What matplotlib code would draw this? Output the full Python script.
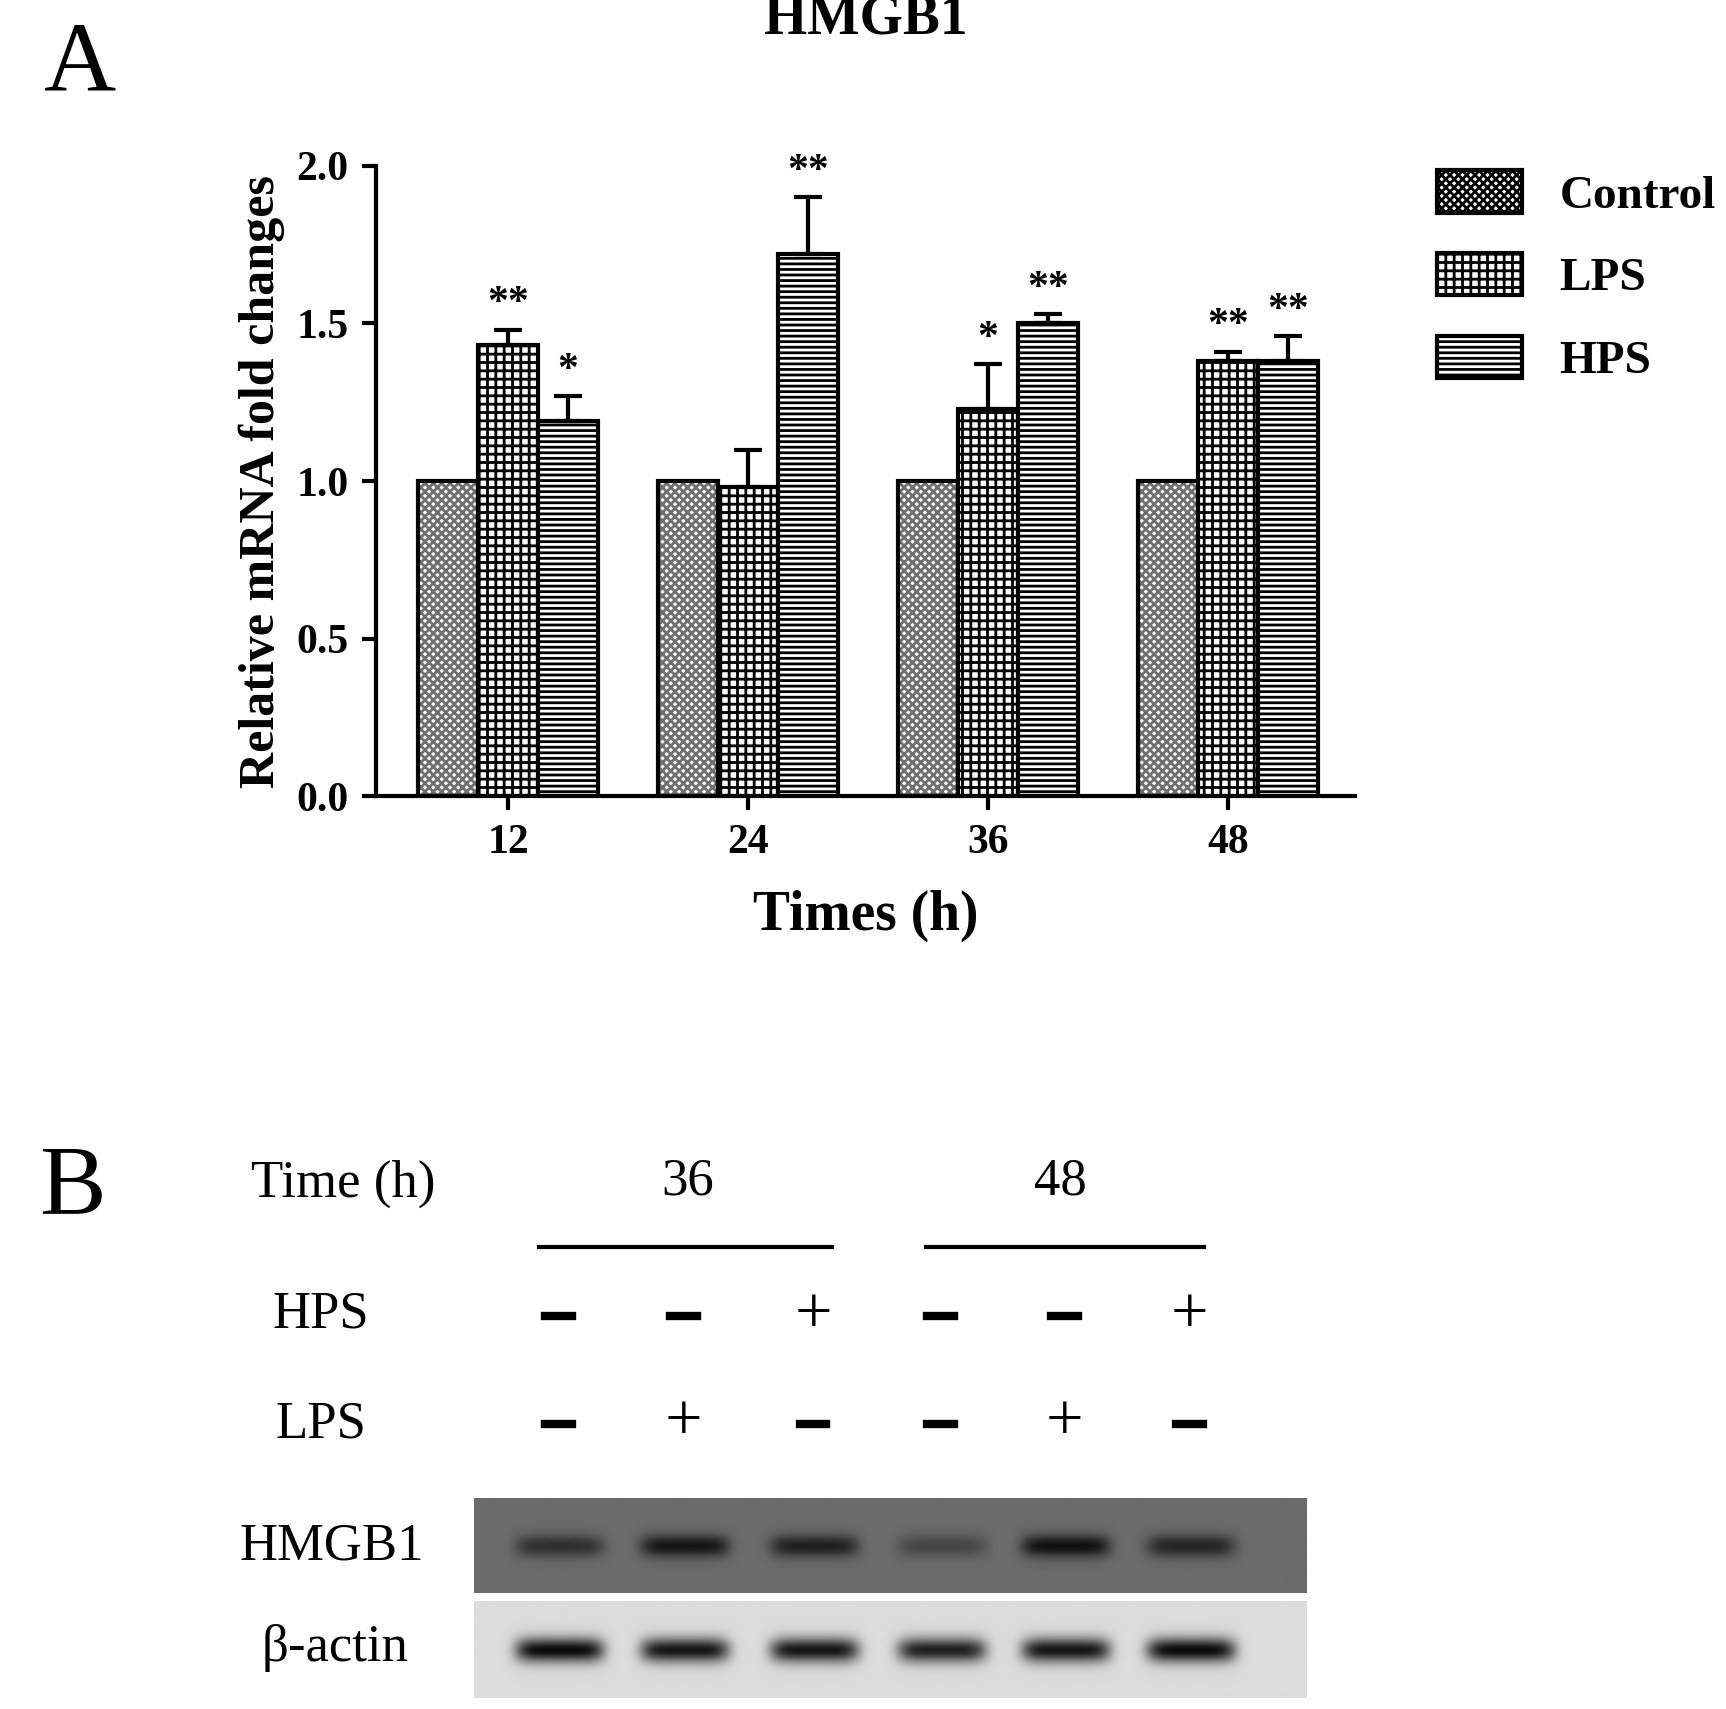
import matplotlib.pyplot as plt
import numpy as np

plt.rcParams['font.family'] = ['Liberation Serif', 'DejaVu Serif']
plt.rcParams['hatch.linewidth'] = 2.0

times = ['12', '24', '36', '48']
groups = ['Control', 'LPS', 'HPS']
control = [1.0, 1.0, 1.0, 1.0]
lps = [1.43, 0.98, 1.23, 1.38]
hps = [1.19, 1.72, 1.50, 1.38]
ctrl_err = [0, 0, 0, 0]
lps_err = [0.05, 0.12, 0.14, 0.03]
hps_err = [0.08, 0.18, 0.03, 0.08]
lps_sig = ['**', '', '*', '**']
hps_sig = ['*', '**', '**', '**']

lane_x = [505, 618, 735, 850, 962, 1075]
hps_row = ['-', '-', '+', '-', '-', '+']
lps_row = ['-', '+', '-', '-', '+', '-']
hmgb1_band = [0.55, 0.8, 0.7, 0.35, 0.85, 0.65]
actin_band = [0.95, 0.9, 0.9, 0.85, 0.9, 0.95]

fig = plt.figure(figsize=(17.26, 17.09), dpi=100)
ax = fig.add_axes([0.218, 0.534, 0.567, 0.369])
x = np.arange(len(times))
w = 0.25
hatches = ['xxxx', '++', '---']
hatch_cols = ['#707070', 'black', 'black']
sets = [(control, ctrl_err), (lps, lps_err), (hps, hps_err)]
handles = []
for i, (vals, err) in enumerate(sets):
    xs = x + (i - 1) * w
    ax.bar(xs, vals, w, color='white', edgecolor=hatch_cols[i], hatch=hatches[i],
           linewidth=0)
    ax.bar(xs, vals, w, fill=False, edgecolor='black', linewidth=3)
    if i > 0:
        ax.errorbar(xs, vals, yerr=[np.zeros(4), err], fmt='none', ecolor='black',
                    elinewidth=3, capsize=10, capthick=3)
    handles.append(plt.Rectangle((0, 0), 1, 1, facecolor='white', edgecolor=hatch_cols[i],
                                 hatch=hatches[i], linewidth=0))
for i, (sig, vals, err) in enumerate([(lps_sig, lps, lps_err), (hps_sig, hps, hps_err)]):
    for j in range(4):
        if sig[j]:
            ax.text(x[j] + i * w, vals[j] + err[j] + 0.02, sig[j], ha='center',
                    va='bottom', fontsize=30, fontweight='bold')
ax.set_xlim(-0.55, 3.53)
ax.set_ylim(0, 2.0)
ax.set_yticks([0, 0.5, 1.0, 1.5, 2.0])
ax.set_yticklabels(['0.0', '0.5', '1.0', '1.5', '2.0'])
ax.set_xticks(x)
ax.set_xticklabels(times)
ax.tick_params(labelsize=30, width=3, length=10, pad=10)
for lab in ax.get_xticklabels() + ax.get_yticklabels():
    lab.set_fontweight('bold')
for s in ['top', 'right']:
    ax.spines[s].set_visible(False)
for s in ['left', 'bottom']:
    ax.spines[s].set_linewidth(3)
ax.set_ylabel('Relative mRNA fold changes', fontsize=36, fontweight='bold', labelpad=8)
ax.set_xlabel('Times (h)', fontsize=40, fontweight='bold', labelpad=20)
ax.set_title('HMGB1', fontsize=40, fontweight='bold', pad=95)
leg = ax.legend(handles, groups, loc='upper left', bbox_to_anchor=(1.04, 1.06), frameon=False,
                prop={'size': 34, 'weight': 'bold'}, handlelength=1.8, handleheight=1.0,
                labelspacing=0.75)
for p in leg.get_patches():
    p.set_edgecolor('black')
    p.set_linewidth(3)

# overlay in reference pixel coordinates
ov = fig.add_axes([0, 0, 1, 1])
ov.axis('off')
ov.text(40, 60, 'A', fontsize=72, va='center')
ov.text(35, 1075, 'B', fontsize=72, va='center')
ov.text(310, 1070, 'Time (h)', fontsize=38, ha='center', va='center')
ov.text(622, 1068, '36', fontsize=38, ha='center', va='center')
ov.text(958, 1068, '48', fontsize=38, ha='center', va='center')
ov.plot([487, 752], [1127, 1127], color='black', lw=3)
ov.plot([837, 1088], [1127, 1127], color='black', lw=3)
ov.text(290, 1188, 'HPS', fontsize=38, ha='center', va='center')
ov.text(290, 1288, 'LPS', fontsize=38, ha='center', va='center')
ov.text(300, 1398, 'HMGB1', fontsize=38, ha='center', va='center')
ov.text(303, 1490, 'β-actin', fontsize=38, ha='center', va='center')
for lx, h, l in zip(lane_x, hps_row, lps_row):
    for sym, yy in [(h, 1190), (l, 1287)]:
        if sym == '-':
            ov.plot([lx - 12, lx + 12], [yy, yy], color='black', lw=6)
        else:
            ov.text(lx, yy, '+', fontsize=48, ha='center', va='center')

# blots
xx = np.arange(428, 1180)
def blot(bands, bg, y0, y1, thick):
    yy = np.arange(y0, y1)
    img = np.full((len(yy), len(xx)), bg)
    for lx, b in zip(lane_x, bands):
        gx = np.exp(-((xx - lx) / 40.0) ** 6)
        gy = np.exp(-((yy - (y0 + y1) / 2) / thick) ** 2)
        img -= b * bg * np.outer(gy, gx)
    ov.imshow(img, cmap='gray', vmin=0, vmax=1, extent=(428, 1180, y1, y0),
              aspect='auto', interpolation='bilinear')
blot(hmgb1_band, 0.42, 1355, 1440, 10)
blot(actin_band, 0.86, 1448, 1535, 11)
ov.set_xlim(0, 1560)
ov.set_ylim(1545, 0)

fig.savefig('out.png', dpi=100)
